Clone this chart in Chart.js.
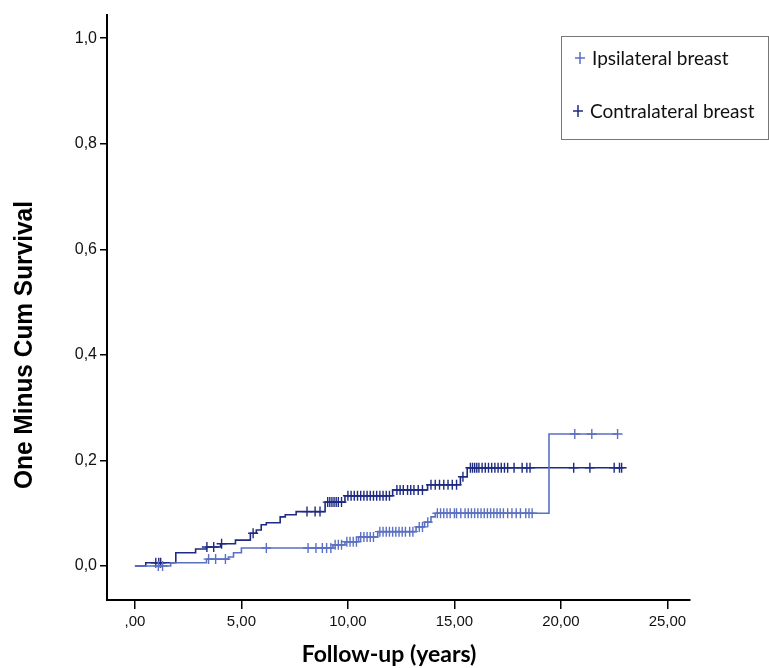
<!DOCTYPE html>
<html>
<head>
<meta charset="utf-8">
<script src="https://cdn.jsdelivr.net/npm/chart.js@4.4.0/dist/chart.umd.min.js"></script>
<style>
  html, body { margin: 0; padding: 0; background: #fff; }
  #wrap { position: relative; width: 769px; height: 668px; }
</style>
</head>
<body>
<div id="wrap"><canvas id="km" width="769" height="668"></canvas></div>
<script>
// Kaplan-Meier steps (time in years, one minus cum survival)
const ipsiTimes  = [0, 1.68, 3.36, 4.39, 4.63, 5.0, 9.3, 9.86, 10.5, 11.4, 13.2, 13.6, 13.9, 14.1, 19.44, 22.66];
const ipsiValues = [0, 0.006, 0.013, 0.017, 0.025, 0.034, 0.040, 0.046, 0.055, 0.065, 0.074, 0.083, 0.093, 0.100, 0.250, 0.250];

const contraTimes  = [0, 0.51, 1.92, 2.85, 3.36, 4.02, 4.72, 5.42, 5.70, 5.93, 6.17, 6.82, 7.06, 7.57, 8.93, 9.86, 12.1, 13.74, 15.28, 15.6, 22.85];
const contraValues = [0, 0.006, 0.025, 0.032, 0.036, 0.042, 0.049, 0.062, 0.068, 0.078, 0.082, 0.093, 0.097, 0.103, 0.121, 0.133, 0.144, 0.154, 0.169, 0.186, 0.186];

// censored cases (times)
const ipsiCensored = [1.1, 1.3, 3.46, 3.79, 4.25, 6.17, 8.13, 8.5, 8.8, 9.0, 9.2, 9.4, 9.55, 9.7, 9.95, 10.1, 10.25, 10.4, 10.6, 10.75, 10.9, 11.05, 11.2, 11.5, 11.65, 11.8, 11.95, 12.1, 12.25, 12.4, 12.55, 12.7, 12.9, 13.05, 13.35, 13.5, 13.75, 14.2, 14.35, 14.5, 14.65, 14.8, 15.0, 15.1, 15.3, 15.5, 15.65, 15.8, 15.95, 16.1, 16.25, 16.4, 16.55, 16.7, 16.85, 17.0, 17.15, 17.3, 17.5, 17.7, 17.9, 18.1, 18.35, 18.5, 18.65, 20.65, 21.45, 22.66];
const contraCensored = [0.98, 1.12, 1.21, 3.38, 3.70, 4.07, 5.55, 8.08, 8.46, 8.69, 9.05, 9.15, 9.25, 9.35, 9.45, 9.55, 9.7, 10.0, 10.15, 10.3, 10.45, 10.6, 10.75, 10.9, 11.05, 11.2, 11.35, 11.5, 11.65, 11.8, 11.95, 12.3, 12.45, 12.6, 12.8, 12.95, 13.1, 13.3, 13.5, 13.9, 14.1, 14.3, 14.5, 14.7, 14.9, 15.1, 15.4, 15.75, 15.85, 15.95, 16.05, 16.15, 16.3, 16.45, 16.6, 16.75, 16.9, 17.05, 17.2, 17.35, 17.5, 17.8, 18.18, 18.4, 18.55, 20.6, 21.36, 22.5, 22.75, 22.85];

const xTickValues = [0, 5, 10, 15, 20, 25];
const xTickLabels = [',00', '5,00', '10,00', '15,00', '20,00', '25,00'];
const yTickValues = [0, 0.2, 0.4, 0.6, 0.8, 1.0];
const yTickLabels = ['0,0', '0,2', '0,4', '0,6', '0,8', '1,0'];

const seriesLabels = ['Ipsilateral breast', 'Contralateral breast'];
const ipsiColor = '#5b70c2';
const contraColor = '#1f2b82';

function toPoints(times, values) {
    return times.map((t, i) => ({ x: t, y: values[i] }));
}

// value of the step curve at time t
function stepAt(times, values, t) {
    let v = values[0];
    for (let i = 0; i < times.length; i++) {
        if (times[i] <= t) v = values[i];
    }
    return v;
}

function censorPoints(cens, times, values) {
    return cens.map(t => ({ x: t, y: stepAt(times, values, t) }));
}

const decor = {
    id: 'decor',
    afterDraw(chart) {
        const ctx = chart.ctx;
        ctx.save();
        // y axis title (SPSS style, a bit tall)
        ctx.fillStyle = '#000';
        ctx.font = 'bold 22px "Liberation Sans", Arial, sans-serif';
        ctx.textAlign = 'center';
        ctx.textBaseline = 'middle';
        ctx.translate(25, 345);
        ctx.rotate(-Math.PI / 2);
        const w = ctx.measureText('One Minus Cum Survival').width;
        ctx.scale(288 / w, 1.15);
        ctx.fillText('One Minus Cum Survival', 0, 0);
        ctx.restore();

        // x axis title
        ctx.save();
        ctx.fillStyle = '#000';
        ctx.font = 'bold 23px Lato, "Open Sans", sans-serif';
        ctx.textAlign = 'center';
        ctx.textBaseline = 'alphabetic';
        ctx.fillText('Follow-up (years)', 389, 662);
        ctx.restore();

        // legend box
        ctx.save();
        ctx.strokeStyle = '#777';
        ctx.lineWidth = 1;
        ctx.strokeRect(561.5, 36.5, 207, 103);
        const rows = [
            { label: chart.data.datasets[0].label, color: ipsiColor, x: 580, y: 58 },
            { label: chart.data.datasets[2].label, color: contraColor, x: 578, y: 111 }
        ];
        ctx.font = '19px Lato, "Open Sans", sans-serif';
        ctx.textAlign = 'left';
        ctx.textBaseline = 'middle';
        rows.forEach(r => {
            ctx.strokeStyle = r.color;
            ctx.lineWidth = 1.5;
            ctx.beginPath();
            ctx.moveTo(r.x - 5, r.y);
            ctx.lineTo(r.x + 5, r.y);
            ctx.moveTo(r.x, r.y - 6);
            ctx.lineTo(r.x, r.y + 6);
            ctx.stroke();
            ctx.fillStyle = '#111';
            ctx.fillText(r.label, r.x + 12, r.y + 1);
        });
        ctx.restore();
    }
};

const ctx = document.getElementById('km').getContext('2d');
const chart = new Chart(ctx, {
    type: 'line',
    data: {
        datasets: [
            {
                label: seriesLabels[0],
                data: toPoints(ipsiTimes, ipsiValues),
                borderColor: ipsiColor,
                borderWidth: 1.6,
                stepped: true,
                pointRadius: 0,
                fill: false
            },
            {
                type: 'scatter',
                label: 'Ipsilateral censored',
                data: censorPoints(ipsiCensored, ipsiTimes, ipsiValues),
                pointStyle: 'cross',
                pointRadius: 5,
                borderColor: ipsiColor,
                borderWidth: 1.4,
                showLine: false
            },
            {
                label: seriesLabels[1],
                data: toPoints(contraTimes, contraValues),
                borderColor: contraColor,
                borderWidth: 1.6,
                stepped: true,
                pointRadius: 0,
                fill: false
            },
            {
                type: 'scatter',
                label: 'Contralateral censored',
                data: censorPoints(contraCensored, contraTimes, contraValues),
                pointStyle: 'cross',
                pointRadius: 5,
                borderColor: contraColor,
                borderWidth: 1.4,
                showLine: false
            }
        ]
    },
    options: {
        responsive: false,
        animation: false,
        devicePixelRatio: 1,
        events: [],
        layout: { padding: { top: 15, right: 79, left: 0, bottom: 0 } },
        plugins: {
            legend: { display: false },
            tooltip: { enabled: false }
        },
        scales: {
            x: {
                type: 'linear',
                min: -1.31,
                max: 26.06,
                afterFit: s => { s.height = 68; },
                afterBuildTicks: s => { s.ticks = xTickValues.map(v => ({ value: v })); },
                ticks: {
                    callback: (v, i) => xTickLabels[i],
                    color: '#111',
                    font: { family: '"Liberation Sans", Arial, sans-serif', size: 15 },
                    padding: 4,
                    maxRotation: 0
                },
                grid: { display: true, drawOnChartArea: false, drawTicks: true, tickLength: 9, color: '#000', lineWidth: 1.5 },
                border: { display: true, color: '#000', width: 2 }
            },
            y: {
                type: 'linear',
                min: -0.0645,
                max: 1.044,
                afterFit: s => { s.width = 107; },
                afterBuildTicks: s => { s.ticks = yTickValues.map(v => ({ value: v })); },
                ticks: {
                    callback: (v, i) => yTickLabels[i],
                    color: '#111',
                    font: { family: '"Liberation Sans", Arial, sans-serif', size: 16 },
                    padding: 3
                },
                grid: { display: true, drawOnChartArea: false, drawTicks: true, tickLength: 7, color: '#000', lineWidth: 1.5 },
                border: { display: true, color: '#000', width: 2 }
            }
        }
    },
    plugins: [decor]
});
</script>
</body>
</html>
